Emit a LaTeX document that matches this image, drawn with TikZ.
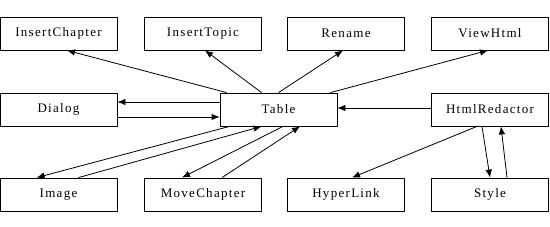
\documentclass[tikz,border=0pt]{standalone}
\usepackage{fontspec}
\setmainfont{Liberation Serif}[LetterSpace=10]
\usetikzlibrary{calc,arrows.meta}

\begin{document}
\begin{tikzpicture}[x=1pt,y=-1pt,>={Latex[length=8pt,width=6.5pt]},line join=round,
  line width=0.8pt,
  cls/.style={draw,minimum width=117pt,minimum height=33pt,inner sep=0pt,
    font=\fontsize{13}{15}\selectfont}]
  \useasboundingbox (0,0) rectangle (550,227);
  % top row
  \node[cls] (InsertChapter) at (58.5,33.5) {InsertChapter};
  \node[cls] (InsertTopic)   at (203,33.5)  {InsertTopic};
  \node[cls] (Rename)        at (346,33.5)  {Rename};
  \node[cls] (ViewHtml)      at (490,33.5)  {ViewHtml};
  % middle row
  \node[cls] (Dialog)        at (58.5,109.5) {Dialog};
  \node[cls] (Table)         at (278.5,109.5) {Table};
  \node[cls] (HtmlRedactor)  at (490,109.5)  {HtmlRedactor};
  % bottom row
  \node[cls] (Image)         at (58.5,194.5) {Image};
  \node[cls] (MoveChapter)   at (203,194.5)  {MoveChapter};
  \node[cls] (HyperLink)     at (346,194.5)  {HyperLink};
  \node[cls] (Style)         at (490,194.5)  {Style};
  % Table up to the top row
  \draw[->] ($(Table.north west)+(7,0)$)  -- ($(InsertChapter.south)+(8.5,0)$);
  \draw[->] ($(Table.north west)+(42,0)$) -- ($(InsertTopic.south)+(2,0)$);
  \draw[->] (Table.north)                 -- ($(Rename.south)+(-3,0)$);
  \draw[->] ($(Table.north east)+(-7,0)$) -- ($(ViewHtml.south)+(-2,0)$);
  % Table and Dialog, both ways
  \draw[->] ([yshift=7.5pt]Table.west)   -- ([yshift=7.5pt]Dialog.east);
  \draw[->] ([yshift=-7.5pt]Dialog.east) -- ([yshift=-7.5pt]Table.west);
  \draw[->] ([yshift=1.5pt]HtmlRedactor.west) -- ([yshift=1.5pt]Table.east);
  % Table and the bottom row
  \draw[->] ($(Table.south west)+(10,0)$) -- ($(Image.north west)+(37,0)$);
  \draw[->] ($(Image.north)+(20,0)$)      -- ($(Table.south west)+(42,0)$);
  \draw[->] ($(Table.south)+(4.5,0)$)     -- ($(MoveChapter.north)+(-21,0)$);
  \draw[->] ($(MoveChapter.north)+(19,0)$) -- ($(Table.south)+(21.5,0)$);
  % HtmlRedactor down
  \draw[->] ($(HtmlRedactor.south)+(-13,0)$) -- ($(HyperLink.north)+(6,0)$);
  \draw[->] ($(HtmlRedactor.south)+(-8,0)$)  -- (Style.north);
  \draw[->] ($(Style.north)+(17,0)$)         -- ($(HtmlRedactor.south)+(11,0)$);
\end{tikzpicture}
\end{document}
